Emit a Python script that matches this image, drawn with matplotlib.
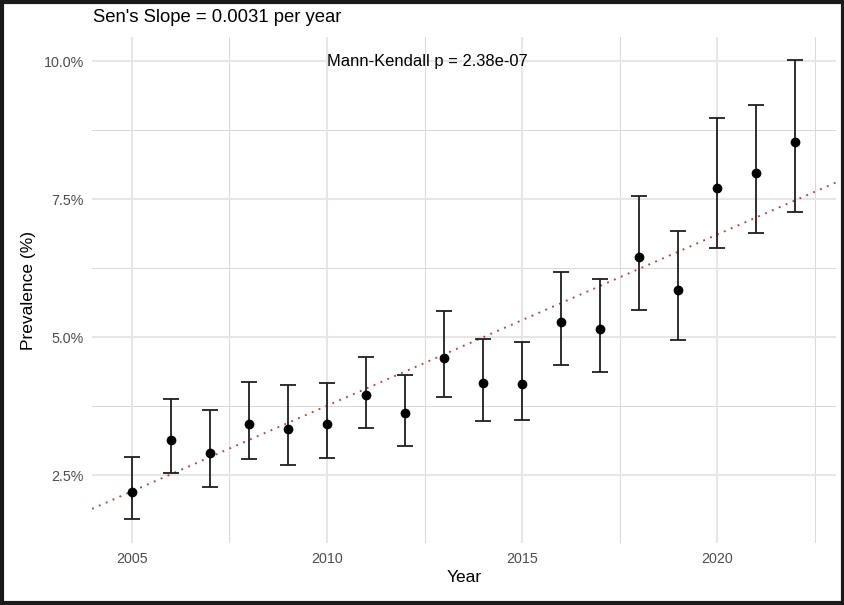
import matplotlib
matplotlib.use("Agg")
import matplotlib.pyplot as plt
from matplotlib.ticker import FixedLocator, PercentFormatter
from matplotlib.patches import Rectangle

plt.rcParams["font.family"] = ["Liberation Sans", "DejaVu Sans"]

# Annual prevalence estimates (as fractions) with 95% confidence bounds
years = [2005, 2006, 2007, 2008, 2009, 2010, 2011, 2012, 2013,
         2014, 2015, 2016, 2017, 2018, 2019, 2020, 2021, 2022]
prevalence = [0.02192, 0.03139, 0.02909, 0.03424, 0.03333, 0.03424, 0.03949, 0.03623, 0.04625,
              0.04167, 0.04149, 0.05277, 0.05150, 0.06455, 0.05862, 0.07710, 0.07971, 0.08543]
ci_lower = [0.01703, 0.02536, 0.02288, 0.02790, 0.02681, 0.02813, 0.03357, 0.03036, 0.03913,
            0.03484, 0.03496, 0.04504, 0.04371, 0.05500, 0.04957, 0.06612, 0.06895, 0.07275]
ci_upper = [0.02832, 0.03882, 0.03688, 0.04190, 0.04130, 0.04167, 0.04643, 0.04312, 0.05467,
            0.04964, 0.04909, 0.06178, 0.06056, 0.07560, 0.06931, 0.08968, 0.09203, 0.10011]

# Trend statistics
sens_slope = 0.0031
sens_intercept_2005 = 0.0221  # trend value at 2005
mk_p = "2.38e-07"

x_major = [2005, 2010, 2015, 2020]
x_minor = [2007.5, 2012.5, 2017.5, 2022.5]
y_major = [0.025, 0.050, 0.075, 0.100]
y_minor = [0.0375, 0.0625, 0.0875]

W, H = 845, 605
fig = plt.figure(figsize=(W / 100, H / 100), dpi=100)
fig.patch.set_facecolor("white")
ax = fig.add_axes([92 / W, 1 - 543.3 / H, (836 - 92) / W, (543.3 - 37.3) / H])
ax.set_facecolor("white")

xlim = (2003.98, 2023.04)
ylim = (0.0127, 0.1043)
ax.set_xlim(*xlim)
ax.set_ylim(*ylim)

# grid lines
for v in x_minor:
    ax.axvline(v, color="#D9D9D9", lw=0.75, zorder=0)
for v in y_minor:
    ax.axhline(v, color="#D9D9D9", lw=0.75, zorder=0)
for v in x_major:
    ax.axvline(v, color="#E6E6E6", lw=1.5, zorder=0)
for v in y_major:
    ax.axhline(v, color="#E6E6E6", lw=1.5, zorder=0)

# Sen's slope trend line across the panel
tx = list(xlim)
ty = [sens_intercept_2005 + sens_slope * (t - 2005) for t in tx]
ax.plot(tx, ty, color="#A8464A", lw=1.35, linestyle=(0, (1, 3.0)), zorder=2)

# error bars and points
yerr = [[p - lo for p, lo in zip(prevalence, ci_lower)],
        [hi - p for p, hi in zip(prevalence, ci_upper)]]
ax.errorbar(years, prevalence, yerr=yerr, fmt="none", ecolor="#1F1F1F",
            elinewidth=1.3, capsize=5.8, capthick=1.3, zorder=3)
ax.plot(years, prevalence, "o", color="black", markersize=6, zorder=4)

ax.text(2012.57, 0.100, f"Mann-Kendall p = {mk_p}", fontsize=11.9,
        ha="center", va="center", color="black", zorder=5)

ax.xaxis.set_major_locator(FixedLocator(x_major))
ax.yaxis.set_major_locator(FixedLocator(y_major))
ax.yaxis.set_major_formatter(PercentFormatter(xmax=1, decimals=1))
ax.tick_params(axis="both", length=0, labelsize=10.3, labelcolor="#4D4D4D")
ax.tick_params(axis="x", pad=6)
ax.tick_params(axis="y", pad=6)
for s in ax.spines.values():
    s.set_visible(False)

ax.set_xlabel("Year", fontsize=12.5, color="black", labelpad=3)
ax.set_ylabel("Prevalence (%)", fontsize=12.5, color="black", labelpad=5)

fig.text(93 / W, 1 - 18 / H, "Sen's Slope = 0.0031 per year", fontsize=13.3,
         ha="left", va="center", color="black")

# outer frame
fig.patches.append(Rectangle((0.002, 0.0028), 0.996, 0.9944, transform=fig.transFigure,
                             fill=False, edgecolor="#1A1A1A", lw=3.0, zorder=10))

fig.savefig("out.png", dpi=100, facecolor="white")
